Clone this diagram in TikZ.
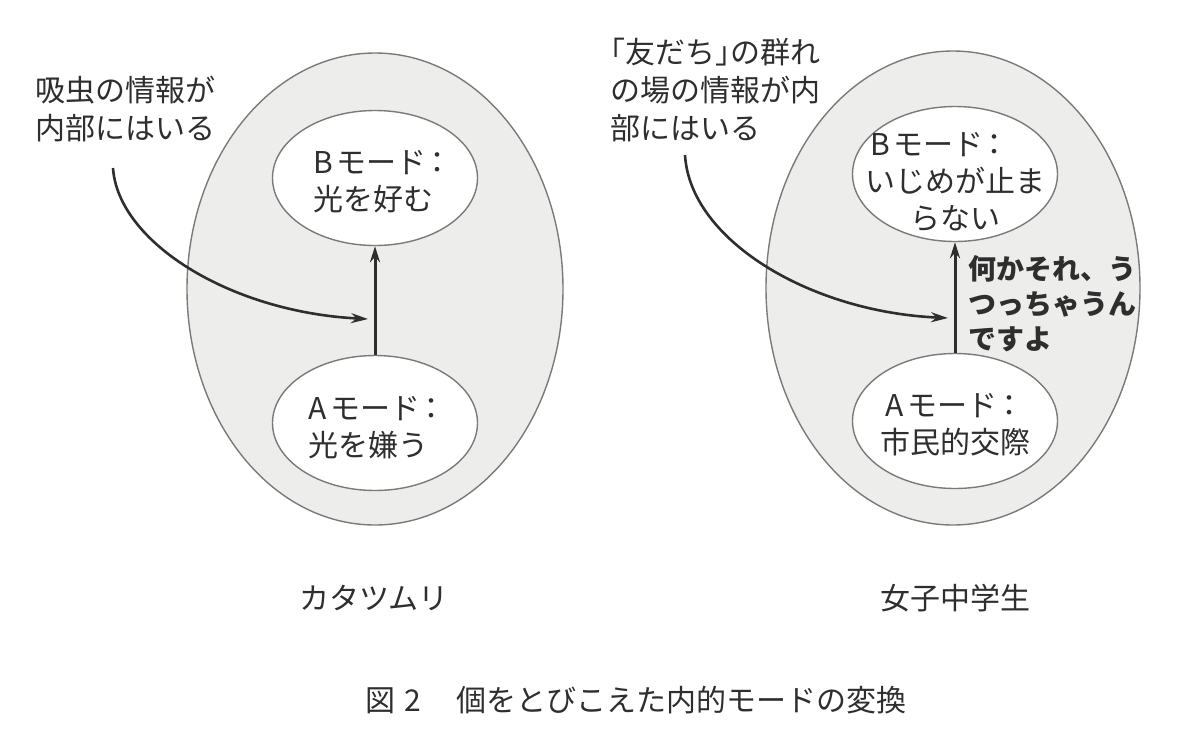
\documentclass[tikz,border=0pt]{standalone}
\usepackage{fontspec}
\setmainfont{Noto Sans CJK JP}
\newfontfamily\jphalt[RawFeature=+halt]{Noto Sans CJK JP}
\usetikzlibrary{shapes.geometric,arrows.meta}
\definecolor{ink}{HTML}{2E2E2E}
\definecolor{rim}{HTML}{7A7A7A}
\definecolor{shade}{HTML}{EDEDEC}
\newcommand{\modeB}{B\hspace{0.12em}モード\kern-0.12em：}
\newcommand{\modeA}{A\hspace{0.12em}モード\kern-0.12em：}
\begin{document}
\begin{tikzpicture}[x=1pt,y=-1pt,
  outer/.style={ellipse,draw=rim,line width=1.4pt,fill=shade,inner sep=0pt},
  inner/.style={ellipse,draw=rim,line width=1.4pt,fill=white,inner sep=0pt,minimum width=205pt,minimum height=135pt},
  txt/.style={text=ink,font=\fontsize{30}{37}\selectfont,align=center,inner sep=0pt},
  txtl/.style={text=ink,font=\fontsize{30}{37}\selectfont,align=left,inner sep=0pt,anchor=west},
  lab/.style={text=ink,font=\fontsize{30}{38}\selectfont,align=left,inner sep=0pt,anchor=west},
  boldlab/.style={text=ink,font=\fontsize{28}{35}\selectfont\bfseries,align=left,inner sep=0pt,anchor=west},
  captxt/.style={text=ink,font=\fontsize{30}{36}\selectfont,inner sep=0pt},
  up/.style={draw=ink,line width=3pt,-{Stealth[length=16pt,width=10pt]}},
  feed/.style={draw=ink,line width=2.6pt,-{Stealth[length=17pt,width=10pt]}}]
\path[use as bounding box] (0,0) rectangle (1200,734);

% big ellipses
\node[outer,minimum width=376pt,minimum height=472pt] (eL) at (375,289) {};
\node[outer,minimum width=374pt,minimum height=474pt] (eR) at (953,288) {};

% inner ellipses
\node[inner] (bL) at (375,178) {};
\node[inner] (aL) at (375,423) {};
\node[inner] (bR) at (955,174) {};
\node[inner] (aR) at (955,421) {};

% texts in inner ellipses
\node[txtl] (bLt) at (313,182) {\modeB\\光を好む};
\node[txtl] (aLt) at (308,428) {\modeA\\光を嫌う};
\node[txt] (bRt) at (955,182) {\modeB\phantom{あ}\\いじめが止ま\\らない};
\node[txt] (aRt) at (955,425) {\modeA\\市民的交際};

% vertical arrows
\draw[up] (aL.north) -- (bL.south);
\draw[up] (aR.north) -- (bR.south);

% outside labels
\node[lab] (labL) at (35,109) {吸虫の情報が\\内部にはいる};
\node[lab] (labR) at (610,90) {{\jphalt 「}友だち{\jphalt 」}の群れ\\の場の情報が内\\部にはいる};
\node[boldlab] (say) at (968,304) {何かそれ、う\\つっちゃうん\\ですよ};

% curved arrows
\coordinate (s1) at (113,168);
\coordinate (t1) at (368,319);
\draw[feed] (s1) .. controls (118,242) and (230,312) .. (t1);
\coordinate (s2) at (685,155);
\coordinate (t2) at (948,318);
\draw[feed] (s2) .. controls (690,240) and (810,312) .. (t2);

% captions
\node[captxt] (nameL) at (374,598) {カタツムリ};
\node[captxt] (nameR) at (955,598) {女子中学生};
\node[captxt] (fig) at (636,700) {図\hspace{0.3em}2\hspace{1.2em}個をとびこえた内的モードの変換};
\end{tikzpicture}
\end{document}
